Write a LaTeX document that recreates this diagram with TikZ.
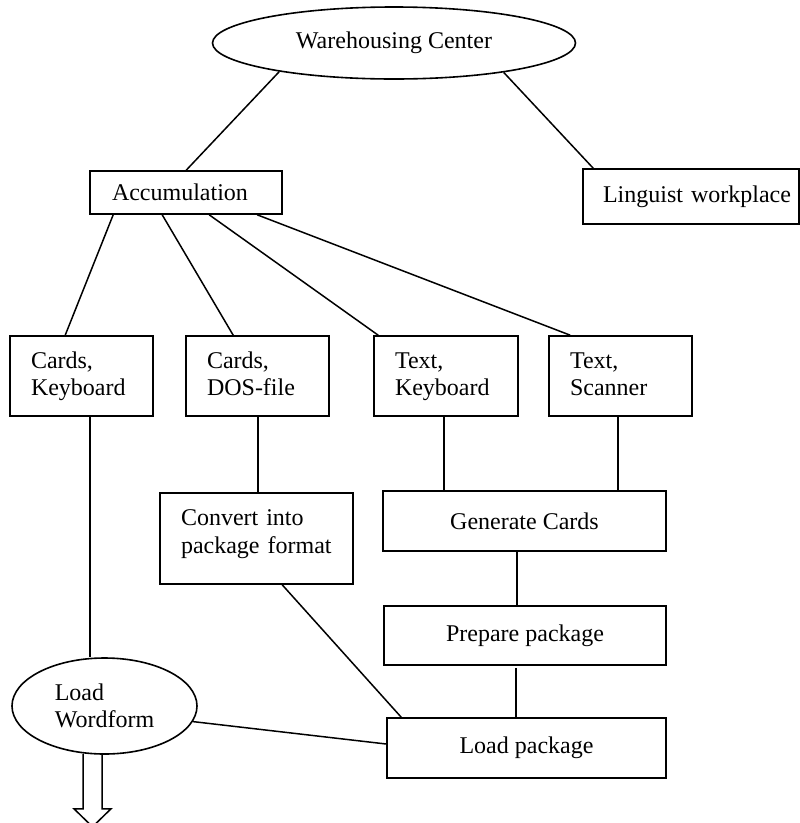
\documentclass[tikz,border=0pt]{standalone}
\usepackage{fontspec}
\setmainfont{Liberation Serif}
\usetikzlibrary{shapes.geometric,calc}
\begin{document}
\begin{tikzpicture}[x=1pt,y=-1pt,line width=1.6pt,
  every node/.style={font=\fontsize{24}{27.5}\selectfont},
  box/.style={draw,rectangle,inner ysep=0pt,align=left},
  rowbox/.style={box,minimum height=80pt,inner xsep=21pt,text width=101pt,text height=17pt,text depth=33pt},
  cbox/.style={draw,rectangle,inner sep=0pt,align=center},
  oval/.style={draw,ellipse,inner sep=0pt},
  conn/.style={line width=1.5pt}]
\useasboundingbox (0,0) rectangle (800,823);

% nodes
\node[oval,minimum width=363pt,minimum height=72pt] (ware) at (394,43) {Warehousing Center\hspace{26pt}};
\node[box,minimum height=43pt,inner xsep=22pt,text width=148pt] (acc) at (186,192.5) {Accumulation};
\node[box,minimum height=55pt,inner xsep=0pt,text width=216pt] (ling) at (691,196.5) {\hspace*{20pt}Linguist workplace};

\node[rowbox] (ck) at (81.5,376) {Cards,\\Keyboard};
\node[rowbox] (cd) at (257.5,376) {Cards,\\DOS-file};
\node[rowbox,text width=102pt] (tk) at (446,376) {Text,\\Keyboard};
\node[rowbox] (ts) at (620.5,376) {Text,\\Scanner};

\node[box,minimum height=91pt,inner xsep=21pt,text width=151pt,text height=17pt,text depth=43pt] (conv) at (256.5,538.5) {Convert into\\package format};
\node[cbox,minimum width=283pt,minimum height=60pt] (gen) at (524.5,521) {Generate Cards};
\node[cbox,minimum width=282pt,minimum height=59pt] (prep) at (525,635.5) {Prepare package};
\node[cbox,minimum width=279pt,minimum height=60pt] (loadp) at (526.5,748) {Load package};

\node[oval,minimum width=185pt,minimum height=96pt,align=left] (lw) at (104.5,706) {Load\\Wordform};

% connectors
\begin{scope}[conn]
\draw (ware.-166) -- ($(acc.north west)+(97,0)$);
\draw (ware.-15) -- ($(ling.north west)+(11,0)$);

\draw ($(acc.south west)+(24,0)$) -- ($(ck.north west)+(56,0)$);
\draw ($(acc.south west)+(73,0)$) -- ($(cd.north west)+(48,0)$);
\draw ($(acc.south west)+(120,0)$) -- ($(tk.north west)+(5,0)$);
\draw ($(acc.south west)+(168,0)$) -- ($(ts.north west)+(22,0)$);

\draw ($(ck.south)+(8.5,0)$) coordinate (ckd) -- (ckd |- lw.north);
\draw ($(cd.south)+(0.5,0)$) coordinate (cdd) -- (cdd |- conv.north);
\draw ($(tk.south)+(-2,0)$) coordinate (tkd) -- (tkd |- gen.north);
\draw ($(ts.south)+(-2.5,0)$) coordinate (tsd) -- (tsd |- gen.north);
\draw ($(gen.south)+(-7.5,0)$) coordinate (gd) -- (gd |- prep.north);
\draw ($(prep.south)+(-9,2)$) coordinate (pd) -- (pd |- loadp.north);
\draw ($(conv.south west)+(123,0)$) -- ($(loadp.north west)+(15,0)$);
\draw (lw.-10) -- ($(loadp.west)+(0,-4)$);

% hollow down arrow
\draw[line join=miter] ($(lw.south)+(-21.5,-1)$) -- ++(0,55) -- ++(-9,0) -- ++(18.5,18) -- ++(18.5,-18) -- ++(-9,0) -- ++(0,-55);
\end{scope}
\end{tikzpicture}
\end{document}
